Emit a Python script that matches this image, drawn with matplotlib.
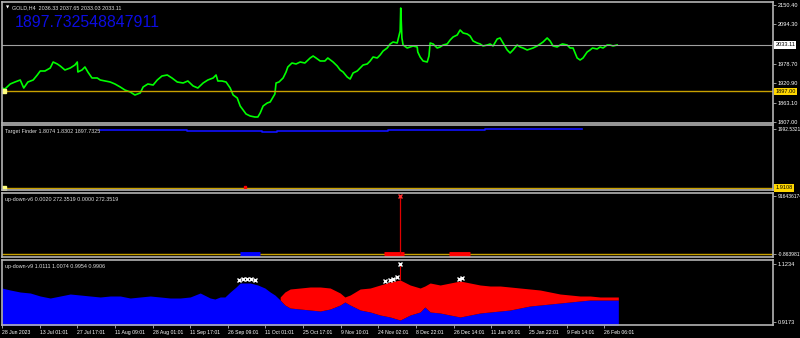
import matplotlib.pyplot as plt
import numpy as np

# H4 bar index of sampled closes (GOLD, H4)
bars = [0, 5, 14, 22, 31, 37, 44, 53, 60, 65, 73, 82, 87, 94, 99, 107, 116, 124, 128, 129,
        136, 141, 146, 153, 162, 167, 175, 184, 192, 201, 209, 218, 226, 235, 240, 248, 257,
        264, 272, 281, 289, 298, 308, 316, 325, 333, 342, 350, 359, 364, 367, 374, 381, 388,
        393, 400, 405, 410, 415, 422, 430, 435, 439, 444, 451, 456, 461, 464, 466, 471, 478,
        483, 486, 493, 500, 507, 515, 524, 529, 534, 541, 549, 554, 563, 570, 575, 580, 587,
        592, 597, 604, 609, 614, 621, 626, 631, 638, 643, 648, 655, 660, 665, 672, 675, 677,
        678, 680, 682, 689, 694, 699, 706, 707, 711, 716, 723, 726, 728, 733, 740, 745, 750,
        757, 762, 767, 774, 779, 784, 791, 796, 801, 808, 813, 818, 825, 830, 835, 842, 847,
        852, 859, 864, 869, 876, 881, 886, 893, 898, 903, 910, 915, 920, 927, 932, 937, 944,
        949, 953, 961, 966, 971, 978, 983, 988, 995, 1000, 1004, 1012, 1017, 1022, 1029, 1034,
        1039, 1046]
close = [1906.8, 1903.9, 1918.6, 1924.4, 1930.3, 1906.8, 1924.4, 1930.3, 1945.0, 1956.7,
         1956.7, 1965.5, 1983.1, 1977.3, 1971.4, 1959.7, 1965.5, 1974.3, 1983.1, 1953.8,
         1959.7, 1968.5, 1953.8, 1936.2, 1936.2, 1930.3, 1927.4, 1924.4, 1918.6, 1909.8,
         1900.9, 1895.1, 1886.3, 1892.2, 1909.8, 1918.6, 1915.6, 1930.3, 1942.0, 1945.0,
         1936.2, 1924.4, 1921.5, 1927.4, 1912.7, 1906.8, 1921.5, 1930.3, 1936.2, 1945.0,
         1927.4, 1927.4, 1924.4, 1906.8, 1886.3, 1877.5, 1854.0, 1842.3, 1830.5, 1824.6,
         1821.7, 1821.7, 1833.4, 1854.0, 1862.8, 1865.8, 1880.4, 1889.2, 1921.5, 1924.4,
         1936.2, 1953.8, 1968.5, 1980.2, 1977.3, 1983.1, 1980.2, 1994.9, 2000.7, 1994.9,
         1986.1, 1986.1, 1994.9, 1983.1, 1971.4, 1959.7, 1953.8, 1939.1, 1933.2, 1950.9,
         1956.7, 1965.5, 1974.3, 1977.3, 1986.1, 1997.8, 1994.9, 2003.7, 2015.4, 2024.2,
         2036.0, 2041.8, 2038.9, 2059.4, 2074.1, 2141.6, 2053.6, 2033.0, 2024.2, 2027.2,
         2030.1, 2027.2, 2012.5, 1997.8, 1986.1, 1983.1, 2000.7, 2038.9, 2036.0, 2024.2,
         2027.2, 2033.0, 2036.0, 2047.7, 2056.5, 2062.4, 2077.0, 2068.2, 2065.3, 2059.4,
         2044.8, 2038.9, 2036.0, 2030.1, 2033.0, 2036.0, 2030.1, 2050.6, 2053.6, 2038.9,
         2018.4, 2009.5, 2018.4, 2033.0, 2027.2, 2024.2, 2018.4, 2021.3, 2024.2, 2030.1,
         2036.0, 2041.8, 2053.6, 2044.8, 2030.1, 2027.2, 2033.0, 2036.0, 2033.0, 2024.2,
         2024.2, 1994.9, 1989.0, 1994.9, 2012.5, 2018.4, 2024.2, 2021.3, 2027.2, 2024.2,
         2033.0, 2033.0, 2030.1, 2033.11]

price_ticks = [2150.40, 2094.30, 1978.70, 1920.90, 1863.10, 1807.00]
last_price = 2033.11
level_price = 1897.00

# Target Finder (panel 2), stepped line
tf_bars = [167, 314, 442, 468, 656, 740, 821, 881, 986]
tf_vals = [1938.8, 1915.3, 1871.7, 1915.3, 1938.8, 1959.0, 1972.4, 1992.5, 1992.5]
tf_level = 1.9108
tf_max = 1992.5321

# up-down-v6 (panel 3)
v6_max = 916436174
v6_spike_bar = 677
v6_blue = [(405, 439)]
v6_red = [(650, 683), (760, 796)]

# up-down-v9 (panel 4)
v9_bars = [0, 14, 31, 48, 65, 82, 99, 116, 133, 150, 167, 184, 201, 218, 235, 252, 269, 286,
           303, 320, 337, 354, 362, 371, 379, 388, 398, 405, 422, 435, 447, 456, 464, 473,
           481, 490, 507, 524, 541, 558, 575, 583, 592, 609, 626, 643, 660, 677, 694, 711,
           719, 728, 745, 762, 779, 796, 813, 830, 847, 864, 881, 898, 915, 932, 949, 966,
           983, 1000, 1017, 1034, 1048]
v9_blue = [1.0381, 1.0310, 1.0239, 1.0204, 1.0097, 1.0026, 1.0097, 1.0168, 1.0133, 1.0097,
           1.0062, 1.0097, 1.0097, 1.0026, 1.0062, 1.0097, 1.0062, 1.0026, 1.0026, 1.0062,
           1.0204, 1.0026, 0.9990, 1.0062, 1.0062, 1.0239, 1.0417, 1.0559, 1.0559, 1.0488,
           1.0381, 1.0239, 1.0133, 0.9955, 0.9777, 0.9671, 0.9635, 0.9600, 0.9564, 0.9635,
           0.9777, 0.9884, 0.9777, 0.9600, 0.9529, 0.9422, 0.9351, 0.9244, 0.9422, 0.9529,
           0.9706, 0.9529, 0.9493, 0.9422, 0.9351, 0.9422, 0.9493, 0.9529, 0.9564, 0.9600,
           0.9671, 0.9742, 0.9777, 0.9813, 0.9848, 0.9884, 0.9920, 0.9955, 0.9955, 0.9955,
           0.9955]
v9_red = [np.nan] * 33 + [1.0062, 1.0239, 1.0346, 1.0381, 1.0417, 1.0417, 1.0381, 1.0204,
                          1.0062, 1.0133, 1.0346, 1.0381, 1.0488, 1.0594, 1.0666, 1.0488,
                          1.0381, 1.0452, 1.0559, 1.0488, 1.0559, 1.0630, 1.0559, 1.0488,
                          1.0452, 1.0452, 1.0417, 1.0381, 1.0346, 1.0310, 1.0239, 1.0168,
                          1.0133, 1.0097, 1.0097, 1.0062, 1.0062, 1.0062]
v9_marks_x = [403, 410, 417, 424, 431, 652, 659, 665, 671, 777, 782]
v9_marks_y = [1.0666, 1.0701, 1.0701, 1.0701, 1.0666, 1.0630, 1.0666, 1.0701, 1.0773, 1.0701, 1.0737]
v9_top_mark = (677, 1.1234)

date_labels = ["28 Jun 2023", "13 Jul 01:01", "27 Jul 17:01", "11 Aug 09:01", "28 Aug 01:01",
               "11 Sep 17:01", "26 Sep 09:01", "11 Oct 01:01", "25 Oct 17:01", "9 Nov 10:01",
               "24 Nov 02:01", "8 Dec 22:01", "26 Dec 14:01", "11 Jan 06:01", "25 Jan 22:01",
               "9 Feb 14:01", "26 Feb 06:01"]
date_ticks = [64 * i for i in range(len(date_labels))]

plt.rcParams['font.family'] = ['Liberation Sans', 'DejaVu Sans']

W, H = 800, 338
fig = plt.figure(figsize=(8, 3.38), dpi=100, facecolor='black')

def panel(top, bottom):
    ax = fig.add_axes([2 / W, 1 - bottom / H, 771 / W, (bottom - top) / H])
    ax.set_facecolor('black')
    for s in ax.spines.values():
        s.set_color('#b4b4b4')
        s.set_linewidth(1.2)
    ax.set_xlim(0, 1311)
    ax.set_xticks([])
    ax.yaxis.tick_right()
    ax.tick_params(axis='y', colors='#b4b4b4', length=2, width=0.6, labelsize=4.1,
                   labelcolor='white', pad=1.5)
    return ax

def tag(ax, y, txt, bg):
    ax.text(1.003, y, txt, transform=ax.get_yaxis_transform(), fontsize=4.1, color='black',
            va='center', ha='left', bbox=dict(boxstyle='square,pad=0.2', fc=bg, ec='none'))

def title(ax, txt, x=0.004):
    ax.text(x, 0.9, txt, transform=ax.transAxes, color='#e0e0e0', fontsize=3.9, va='center')

yellow = '#c8a000'

# main price panel
ax1 = panel(2, 123)
ax1.set_ylim(1804.1, 2159.2)
ax1.plot(bars, close, color='#00ff00', lw=1.2)
ax1.axhline(last_price, color='#a0a0a0', lw=0.8)
ax1.axhline(level_price, color=yellow, lw=1.0)
ax1.plot([3], [level_price], 's', color='#ffff80', ms=2.5)
ax1.set_yticks(price_ticks)
ax1.set_yticklabels([f"{p:.2f}" for p in price_ticks])
tag(ax1, last_price, f"{last_price:.2f}", 'white')
tag(ax1, level_price, f"{level_price:.2f}", '#ffd700')
ax1.text(0.005, 0.955, "▼", transform=ax1.transAxes, color='white', fontsize=3,
         va='center', family='DejaVu Sans')
ax1.text(0.013, 0.955, "GOLD,H4  2036.33 2037.65 2033.03 2033.11", transform=ax1.transAxes,
         color='#e0e0e0', fontsize=3.9, va='center')
ax1.text(0.017, 0.83, "1897.732548847911", transform=ax1.transAxes, color='#0c0ce0',
         fontsize=11.4, va='center')

# Target Finder
ax2 = panel(125, 190)
ax2.set_ylim(-65.3, 2116.7)
ax2.plot(tf_bars, tf_vals, color='#1010ff', lw=1.2, drawstyle='steps-post')
ax2.axhline(tf_level, color=yellow, lw=1.0)
ax2.plot([3], [tf_level], 's', color='#ffff80', ms=2.5)
ax2.plot([413], [tf_level + 30], 's', color='red', ms=1.5)
ax2.set_yticks([tf_max])
ax2.set_yticklabels([f"{tf_max:.4f}"])
ax2.tick_params(axis='y', labelsize=3.5, pad=1)
tag(ax2, tf_level, f"{tf_level:.4f}", '#ffd700')
title(ax2, "Target Finder 1.8074 1.8302 1897.7325")

# up-down-v6
ax3 = panel(193, 257)
step = v6_max / 58
ax3.set_ylim(-3 * step, v6_max + 3 * step)
ax3.axhline(0, color=yellow, lw=1.0)
for a, b in v6_blue:
    ax3.hlines(0, a, b, color='#0000ff', lw=3.5)
for a, b in v6_red:
    ax3.hlines(0, a, b, color='#ff0000', lw=3.5)
ax3.vlines(v6_spike_bar, 0, v6_max, color='#e00000', lw=0.9)
ax3.plot([v6_spike_bar], [v6_max], 'x', color='#ff3030', ms=3, mew=1)
ax3.set_yticks([v6_max, 0])
ax3.set_yticklabels([str(v6_max), "-0.8639817"])
ax3.tick_params(axis='y', labelsize=3.6)
title(ax3, "up-down-v6 0.0020 272.3519 0.0000 272.3519")

# up-down-v9
ax4 = panel(260, 325)
ax4.set_ylim(0.9067, 1.1376)
ax4.fill_between(v9_bars, 0.9, v9_blue, color='#0000ff', lw=0)
ax4.fill_between(v9_bars, v9_blue, v9_red, color='#ff0000', lw=0)
ax4.plot(v9_marks_x, v9_marks_y, 'x', color='white', ms=2.5, mew=1)
ax4.vlines(v9_top_mark[0], 1.0666, v9_top_mark[1], color='#e00000', lw=0.8)
ax4.plot([v9_top_mark[0]], [v9_top_mark[1]], 'x', color='white', ms=3, mew=1)
ax4.set_yticks([1.1234, 0.9173])
ax4.set_yticklabels(["1.1234", "0.9173"])
title(ax4, "up-down-v9 1.0111 1.0074 0.9954 0.9906")
ax4.set_xticks(date_ticks)
ax4.set_xticklabels(date_labels, ha='left')
ax4.tick_params(axis='x', colors='#b4b4b4', length=2, width=0.6, labelsize=3.7,
                labelcolor='white', pad=1.5)

fig.savefig('out.png', dpi=100, facecolor='black')
